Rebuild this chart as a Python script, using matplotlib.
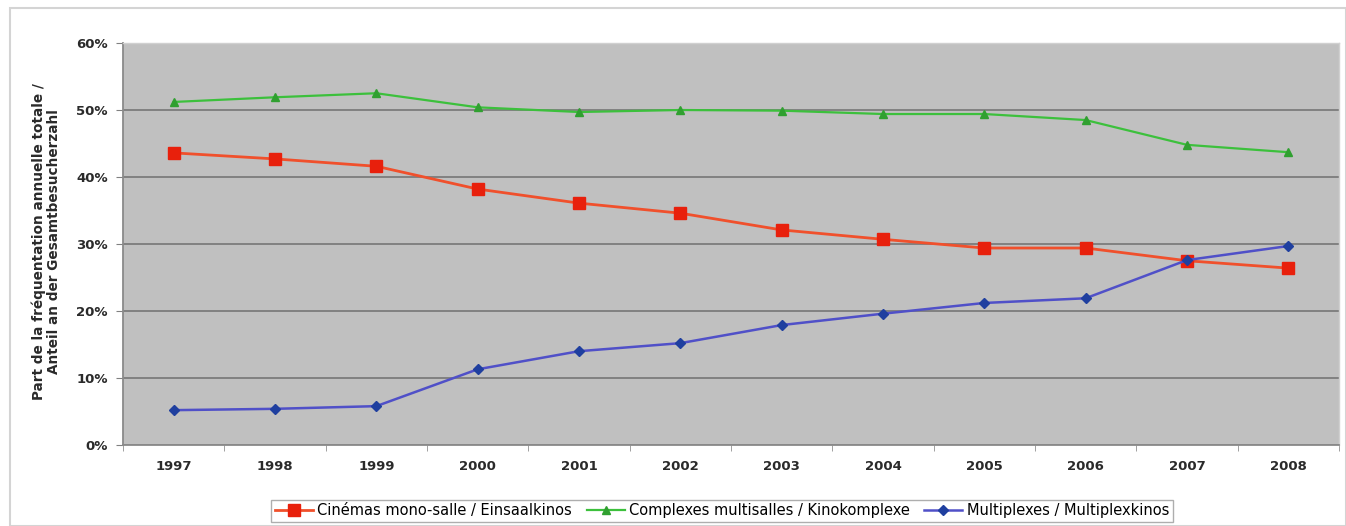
import matplotlib.pyplot as plt
from matplotlib.patches import Rectangle
from matplotlib.ticker import FixedLocator
import numpy as np

years = ['1997', '1998', '1999', '2000', '2001', '2002',
         '2003', '2004', '2005', '2006', '2007', '2008']
mono = [43.6, 42.7, 41.6, 38.2, 36.1, 34.6, 32.1, 30.7, 29.4, 29.4, 27.5, 26.4]
complexes = [51.2, 51.9, 52.5, 50.4, 49.7, 50.0, 49.9, 49.4, 49.4, 48.5, 44.8, 43.7]
multiplex = [5.2, 5.4, 5.8, 11.3, 14.0, 15.2, 17.9, 19.6, 21.2, 21.9, 27.6, 29.7]

labels = ['Cinémas mono-salle / Einsaalkinos',
          'Complexes multisalles / Kinokomplexe',
          'Multiplexes / Multiplexkinos']
ylabel = 'Part de la fréquentation annuelle totale /\nAnteil an der Gesamtbesucherzahl'

fig = plt.figure(figsize=(13.46, 5.26), dpi=100)
fig.patches.append(Rectangle((10 / 1346, 0), 1336 / 1346, 1 - 8 / 526,
                             transform=fig.transFigure, fill=False,
                             edgecolor='#d4d4d4', linewidth=1.5))

ax = fig.add_axes([123 / 1346, 81 / 526, 1216 / 1346, 402 / 526])
ax.set_facecolor('#c0c0c0')

x = np.arange(len(years))
ax.plot(x, mono, color='#f0502c', linewidth=2, marker='s', markersize=8,
        markerfacecolor='#e8200c', markeredgecolor='#e8200c', label=labels[0])
ax.plot(x, complexes, color='#3cc03c', linewidth=1.6, marker='^', markersize=6,
        markerfacecolor='#30a030', markeredgecolor='#30a030', label=labels[1])
ax.plot(x, multiplex, color='#5050c8', linewidth=1.8, marker='D', markersize=5,
        markerfacecolor='#1f3f9f', markeredgecolor='#1f3f9f', label=labels[2])

ax.set_xlim(-0.5, len(years) - 0.5)
ax.set_ylim(0, 60)
ax.set_yticks(np.arange(0, 61, 10))
ax.set_yticklabels([f'{v}%' for v in range(0, 61, 10)])
ax.set_xticks(x)
ax.set_xticklabels(years)
ax.xaxis.set_minor_locator(FixedLocator(np.arange(-0.5, len(years), 1)))

ax.grid(axis='y', color='#7c7c7c', linewidth=1.3)
ax.set_axisbelow(True)
ax.tick_params(axis='x', which='major', length=0, pad=11, labelsize=9.5, colors='#2a2a2a')
ax.tick_params(axis='x', which='minor', length=4, color='#909090')
ax.tick_params(axis='y', length=5, color='#808080', pad=6, labelsize=9.5, colors='#2a2a2a')
for t in ax.get_xticklabels() + ax.get_yticklabels():
    t.set_fontweight('bold')

for side in ['left', 'bottom']:
    ax.spines[side].set_color('#8a8a8a')
    ax.spines[side].set_linewidth(1.3)
for side in ['top', 'right']:
    ax.spines[side].set_color('#d0d0d0')
    ax.spines[side].set_linewidth(1)

fig.text(46 / 1346, 1 - 242 / 526, ylabel, rotation=90, ha='center', va='center',
         fontsize=9.8, fontweight='bold', color='#2a2a2a', linespacing=1.05)

fig.legend(loc='center', bbox_to_anchor=(722 / 1346, 1 - 511 / 526), ncol=3,
           fontsize=10.5, frameon=True, edgecolor='#9a9a9a', fancybox=False,
           handlelength=2.6, columnspacing=1.0, handletextpad=0.3,
           borderpad=0.25, borderaxespad=0)

fig.savefig('out.png', dpi=100)
